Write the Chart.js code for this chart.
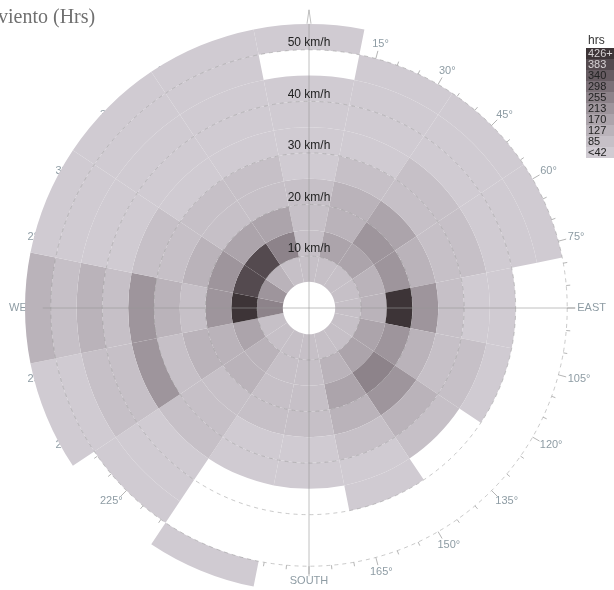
<!DOCTYPE html>
<html>
<head>
<meta charset="utf-8">
<title>Rosa de viento</title>
<script src="https://cdn.jsdelivr.net/npm/chart.js@4.4.1/dist/chart.umd.min.js"></script>
<style>
  html, body { margin: 0; padding: 0; background: #fff; }
  #wrap { position: relative; width: 614px; height: 590px; overflow: hidden; }
</style>
</head>
<body>
<div id="wrap"><canvas id="roseChart" width="614" height="590"></canvas></div>
<script>
// --- Datos: 16 rumbos (desde el norte, sentido horario) x 10 rangos de velocidad ---
const directions = ['N', 'NNE', 'NE', 'ENE', 'E', 'ESE', 'SE', 'SSE', 'S', 'SSW', 'SW', 'WSW', 'W', 'WNW', 'NW', 'NNW'];
const speedBins = ['5-10', '10-15', '15-20', '20-25', '25-30', '30-35', '35-40', '40-45', '45-50', '50-55'];

// horas registradas por rango de velocidad (null = sin registros)
const hours5_10   = [58, 66, 71, 64, 77, 69, 62, 55, 60, 52, 57, 74, 238, 196, 112, 70];
const hours10_15  = [45, 150, 160, 115, 108, 140, 130, 100, 70, 64, 90, 150, 412, 372, 350, 250];
const hours15_20  = [60, 110, 190, 185, 415, 195, 230, 150, 72, 68, 100, 118, 205, 185, 160, 140];
const hours20_25  = [55, 95, 140, 105, 200, 120, 190, 100, 62, 58, 66, 96, 70, 110, 75, 66];
const hours25_30  = [30, 50, 66, 60, 70, 58, 95, 52, 36, 32, 48, 76, 100, 62, 54, 50];
const hours30_35  = [24, 30, 46, 52, 36, 48, 55, 28, 22, 18, 44, 180, 188, 47, 34, 28];
const hours35_40  = [18, 22, 26, 30, 20, 25, null, 14, null, null, 24, 60, 66, 30, 26, 20];
const hours40_45  = [15, 18, 20, 22, null, null, null, null, null, null, 16, 50, 104, 24, 20, 16];
const hours45_50  = [null, 12, 14, 16, null, null, null, null, null, null, 10, 30, 56, 18, 15, 13];
const hours50_55  = [9, null, null, null, null, null, null, null, null, 8, null, 26, 98, 20, 16, 12];

// escala de color (horas)
const hourBreaks = [42, 85, 127, 170, 213, 255, 298, 340, 383];
const scaleLabels = ['<42', '85', '127', '170', '213', '255', '298', '340', '383', '426+'];
const scaleColors = ['#d0cbd2', '#c6c0c7', '#bab3ba', '#aca4ab', '#9e959c', '#8d838a', '#7b7077', '#675c62', '#544a4f', '#3d3437'];

// ejes
const speedTicks = [10, 20, 30, 40, 50];
const compassTicks = [15, 30, 45, 60, 75, 90, 105, 120, 135, 150, 165, 180, 195, 210, 225, 240, 255, 270, 285, 300, 315, 330, 345];
const compassNames = { 90: 'EAST', 180: 'SOUTH', 270: 'WEST' };

const FONT = '"Liberation Sans", Arial, sans-serif';

function colorFor(v) {
    if (v === null) return 'rgba(0,0,0,0)';
    let level = 0;
    hourBreaks.forEach(b => { if (v >= b) level++; });
    return scaleColors[level];
}

const ringHours = [hours5_10, hours10_15, hours15_20, hours20_25, hours25_30,
                   hours30_35, hours35_40, hours40_45, hours45_50, hours50_55];

// el doughnut dibuja el dataset 0 por fuera, así que van del rango mayor al menor
const datasets = ringHours.map((vals, i) => ({
    label: speedBins[i] + ' km/h',
    data: directions.map(() => 1),
    hours: vals,
    backgroundColor: vals.map(colorFor),
    borderWidth: 0,
    clip: false
})).reverse();

// --- Geometría polar tomada de los arcos del propio gráfico ---
function polarGeometry(chart) {
    const n = chart.data.datasets.length;
    const outer = chart.getDatasetMeta(0).data[0];
    const inner = chart.getDatasetMeta(n - 1).data[0];
    const r0 = inner.innerRadius, r1 = outer.outerRadius;
    const vMin = 5, vMax = 55;
    return {
        cx: outer.x,
        cy: outer.y,
        radius: v => r0 + (v - vMin) / (vMax - vMin) * (r1 - r0)
    };
}

function pt(g, deg, r) {
    const a = deg * Math.PI / 180;
    return [g.cx + r * Math.sin(a), g.cy - r * Math.cos(a)];
}

const roseAxes = {
    id: 'roseAxes',
    beforeDatasetsDraw(chart) {
        // marcas y etiquetas de rumbo (quedan por debajo de las barras)
        const ctx = chart.ctx;
        const g = polarGeometry(chart);
        const r50 = g.radius(50);
        ctx.save();
        ctx.strokeStyle = 'rgba(150,150,150,0.7)';
        ctx.lineWidth = 1;
        for (let d = 0; d < 360; d += 5) {
            const len = d % 15 === 0 ? 8 : 4;
            const [x0, y0] = pt(g, d, r50);
            const [x1, y1] = pt(g, d, r50 + len);
            ctx.beginPath();
            ctx.moveTo(x0, y0);
            ctx.lineTo(x1, y1);
            ctx.stroke();
        }

        const rLab = r50 + 10;
        ctx.font = '11px ' + FONT;
        ctx.fillStyle = '#8e9ca4';
        ctx.textAlign = 'center';
        ctx.textBaseline = 'middle';
        compassTicks.forEach(d => {
            const txt = compassNames[d] || (d + '°');
            const w = ctx.measureText(txt).width;
            const a = d * Math.PI / 180;
            const [x, y] = pt(g, d, rLab);
            ctx.fillText(txt, x + Math.sin(a) * w / 2, y - Math.cos(a) * 5);
        });
        ctx.restore();
    },
    afterDatasetsDraw(chart) {
        const ctx = chart.ctx;
        const g = polarGeometry(chart);
        const r50 = g.radius(50);
        ctx.save();

        // círculos de velocidad
        ctx.strokeStyle = 'rgba(150,150,150,0.5)';
        ctx.lineWidth = 1;
        ctx.setLineDash([4, 4]);
        speedTicks.forEach(v => {
            ctx.beginPath();
            ctx.arc(g.cx, g.cy, g.radius(v), 0, Math.PI * 2);
            ctx.stroke();
        });
        ctx.setLineDash([]);

        // ejes norte-sur y oeste-este
        ctx.strokeStyle = 'rgba(150,150,150,0.6)';
        ctx.beginPath();
        ctx.moveTo(g.cx, g.cy - r50 - 26);
        ctx.lineTo(g.cx, g.cy + r50 + 10);
        ctx.moveTo(g.cx - r50 - 8, g.cy);
        ctx.lineTo(g.cx + r50 + 8, g.cy);
        ctx.stroke();
        // punta del norte
        ctx.beginPath();
        ctx.moveTo(g.cx - 2, g.cy - r50 - 26);
        ctx.lineTo(g.cx, g.cy - r50 - 40);
        ctx.lineTo(g.cx + 2, g.cy - r50 - 26);
        ctx.stroke();

        // etiquetas de velocidad
        ctx.font = '12px ' + FONT;
        ctx.fillStyle = '#222';
        ctx.textAlign = 'center';
        ctx.textBaseline = 'bottom';
        speedTicks.forEach(v => {
            ctx.fillText(v + ' km/h', g.cx, g.cy - g.radius(v) - 1);
        });
        ctx.restore();
    },
    afterDraw(chart) {
        const ctx = chart.ctx;
        ctx.save();

        // título (arranca fuera del lienzo por la izquierda)
        ctx.font = '20px "Liberation Serif", "Times New Roman", serif';
        ctx.fillStyle = '#707070';
        ctx.textAlign = 'right';
        ctx.textBaseline = 'alphabetic';
        const tail = ctx.measureText('viento (Hrs)').width;
        ctx.fillText('Rosa de viento (Hrs)', tail - 2, 23);

        // escala de color
        const x0 = 586, y0 = 48, h = 11, w = 40;
        ctx.font = '12px ' + FONT;
        ctx.fillStyle = '#333';
        ctx.textAlign = 'left';
        ctx.textBaseline = 'middle';
        ctx.fillText('hrs', 588, 41);
        ctx.font = '11px ' + FONT;
        for (let i = scaleColors.length - 1, row = 0; i >= 0; i--, row++) {
            const y = y0 + row * h;
            ctx.fillStyle = scaleColors[i];
            ctx.fillRect(x0, y, w, h);
            ctx.fillStyle = i >= 8 ? '#d8d4d6' : '#222';
            ctx.fillText(scaleLabels[i], x0 + 2, y + h / 2 + 0.5);
        }
        ctx.restore();
    }
};

new Chart(document.getElementById('roseChart'), {
    type: 'doughnut',
    data: { labels: directions, datasets: datasets },
    options: {
        responsive: false,
        animation: false,
        rotation: -11.25,
        cutout: 26,
        radius: 284,
        layout: { padding: { left: 4, right: 0, top: 26, bottom: 0 } },
        plugins: {
            legend: { display: false },
            tooltip: { enabled: false }
        }
    },
    plugins: [roseAxes]
});
</script>
</body>
</html>
